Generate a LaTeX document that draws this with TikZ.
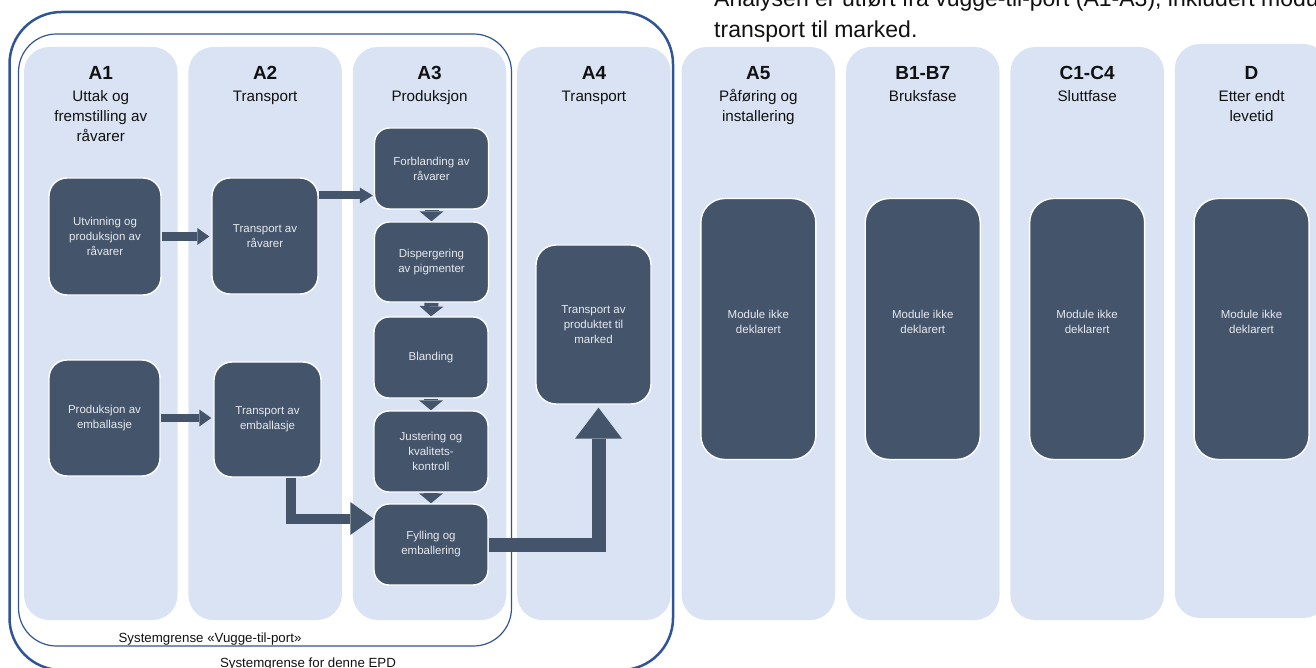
\documentclass[tikz,border=0pt]{standalone}
\usepackage{fontspec}
\setmainfont{Liberation Sans}
\usetikzlibrary{arrows.meta,calc}
\pgfdeclarelayer{bg}
\pgfdeclarelayer{mid}
\pgfsetlayers{bg,mid,main}
\definecolor{colbg}{HTML}{DAE3F3}
\definecolor{boxfill}{HTML}{44546A}
\definecolor{bound}{HTML}{2F5597}
\definecolor{boxtext}{HTML}{E6E9EE}
\definecolor{ink}{HTML}{111111}
\begin{document}
\begin{tikzpicture}[x=1pt,y=-1pt,
  col/.style={fill=colbg, draw=none, rounded corners=25pt, inner sep=0pt},
  proc/.style={draw=white, line width=1.4pt, fill=boxfill, rounded corners=18pt,
    text=boxtext, font=\fontsize{11.5}{15}\selectfont, align=center, inner sep=0pt},
  modbox/.style={proc, rounded corners=24pt, minimum width=115pt, minimum height=261pt},
  modtext/.style={text=boxtext, font=\fontsize{11.5}{15}\selectfont, align=center, inner sep=0pt},
  hdr/.style={font=\bfseries\fontsize{19}{22}\selectfont, anchor=base, text=ink, inner sep=0pt},
  subhdr/.style={font=\fontsize{15.2}{20}\selectfont, align=center, anchor=base, text=ink, inner sep=0pt},
  lbl/.style={font=\fontsize{13.3}{16}\selectfont, anchor=base, text=ink, inner sep=0pt},
  boundout/.style={draw=bound, line width=2.5pt, rounded corners=52pt},
  boundin/.style={draw=bound, line width=1.2pt, rounded corners=38pt},
  blk/.style={draw=boxfill, line join=miter},
]
\useasboundingbox (0,0) rectangle (1316,668);
\clip (0,0) rectangle (1316,668);

% top note (anchor base = baseline of last line)
\node[anchor=base west, font=\fontsize{23}{31}\selectfont, align=left, text=ink, inner sep=0pt] (note) at (714,38)
  {Analysen er utført fra vugge-til-port (A1-A3), inkludert modul A4\\transport til marked.};

% columns and system boundaries
\begin{pgfonlayer}{bg}
\foreach \i in {0,...,6}{
  \pgfmathsetmacro\cx{24+164.4*\i+76.75}
  \node[col, minimum width=153.5pt, minimum height=573pt] (c\i) at (\cx,333.5) {};
}
\node[col, minimum width=153.5pt, minimum height=574pt] (c7) at (1251.55,331) {};
\path[boundout] (9.5,12) rectangle (673,670);
\path[boundin] (18.5,34) rectangle (511.5,646);
\end{pgfonlayer}

% headers (n = number of subtitle lines)
\foreach \i/\lab/\n/\sub in {0/A1/3/{Uttak og\\fremstilling av\\råvarer},1/A2/1/Transport,2/A3/1/Produksjon,3/A4/1/Transport,4/A5/2/{Påføring og\\installering},5/B1-B7/1/Bruksfase,6/C1-C4/1/Sluttfase,7/D/2/{Etter endt\\levetid}}{
  \pgfmathsetmacro\cx{24+164.4*\i+76.75}
  \pgfmathsetmacro\sy{102+20*(\n-1)}
  \node[hdr] (h\i) at (\cx,80) {\lab};
  \node[subhdr] (s\i) at (\cx,\sy) {\sub};
}

% process boxes
\node[proc, minimum width=112pt, minimum height=117pt] (u1) at (105,236.5) {Utvinning og\\produksjon av\\råvarer};
\node[proc, minimum width=106pt, minimum height=116pt] (t1) at (265,236) {Transport av\\råvarer};
\node[proc, minimum width=111pt, minimum height=116pt] (pe) at (104.5,418) {Produksjon av\\emballasje};
\node[proc, minimum width=107pt, minimum height=115pt] (te) at (267.5,419.5) {Transport av\\emballasje};
\node[proc, rounded corners=15pt, minimum width=114pt, minimum height=81pt] (fb) at (431.5,168.5) {Forblanding av\\råvarer};
\node[proc, rounded corners=15pt, minimum width=114pt, minimum height=80pt] (di) at (431.5,262) {Dispergering\\av pigmenter};
\node[proc, rounded corners=15pt, minimum width=114pt, minimum height=81pt] (bl) at (431,357.5) {Blanding};
\node[proc, rounded corners=15pt, minimum width=114pt, minimum height=81pt] (ju) at (431,451.5) {Justering og\\kvalitets-\\kontroll};
\node[proc, rounded corners=15pt, minimum width=114pt, minimum height=81pt] (fy) at (431,544.5) {Fylling og\\emballering};
\node[proc, rounded corners=20pt, minimum width=115pt, minimum height=159pt] (tp) at (593.5,324.5) {Transport av\\produktet til\\marked};

% module boxes (text sits a little above centre)
\foreach \i in {4,5,6,7}{
  \pgfmathsetmacro\cx{24+164.4*\i+76.75}
  \node[modbox] (m\i) at (\cx,329) {};
  \node[modtext] (mt\i) at ([yshift=7pt]m\i.center) {Module ikke\\deklarert};
}

% arrows
\begin{pgfonlayer}{mid}
\draw[blk, line width=9pt, -{Triangle[length=12pt,width=17pt,line width=0pt]}, shorten >=2pt]
  (u1.east) -- (u1.east -| t1.west);
\draw[blk, line width=8pt, -{Triangle[length=13pt,width=16pt,line width=0pt]}, shorten >=1pt]
  ([yshift=40.5pt]t1.east) -- ([yshift=40.5pt]t1.east -| fb.west);
\draw[blk, line width=8.5pt, -{Triangle[length=12pt,width=17pt,line width=0pt]}, shorten >=2pt]
  (pe.east) -- (pe.east -| te.west);
\draw[blk, line width=10pt, -{Triangle[length=23pt,width=33pt,line width=0pt]}]
  ([xshift=23.5pt]te.south) |- ([yshift=26pt]fy.west);
\foreach \a/\b in {fb/di,di/bl,bl/ju,ju/fy}{
  \draw[blk, line width=14pt, -{Triangle[length=10pt,width=24pt,line width=0pt]}]
    (\a.south) -- (\b.north);
}
\draw[blk, line width=14pt, -{Triangle[length=31pt,width=47pt,line width=0pt]}, shorten >=3pt]
  (fy.east) -| ([xshift=5pt]tp.south);
\end{pgfonlayer}

% boundary labels
\node[lbl] (vtp) at (210,642.5) {Systemgrense «Vugge-til-port»};
\node[lbl] (epd) at (308,667) {Systemgrense for denne EPD};
\end{tikzpicture}
\end{document}
